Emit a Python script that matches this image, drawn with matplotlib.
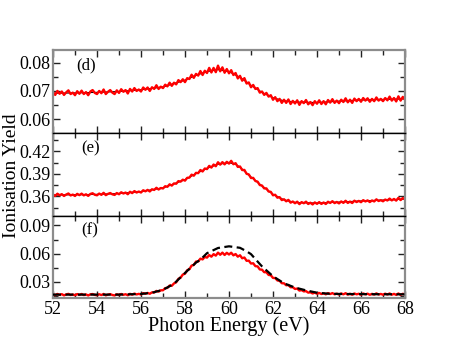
import numpy as np
import matplotlib
matplotlib.use("Agg")
import matplotlib.pyplot as plt
from matplotlib.ticker import MultipleLocator

plt.rcParams['font.family'] = ['Liberation Serif', 'DejaVu Serif']

# ---- data (photon energy grid starts at 52 eV, step 0.1 eV) ----
E0, dE = 52.0, 0.1

# panel (d), values x1e-4
d_raw = [695, 686, 700, 690, 698, 686, 695, 702, 689, 694,
         685, 699, 690, 701, 689, 696, 685, 698, 703, 693,
         689, 700, 692, 705, 689, 697, 703, 694, 689, 702,
         693, 706, 697, 703, 691, 707, 698, 710, 700, 705,
         698, 712, 704, 712, 700, 713, 707, 720, 707, 715,
         710, 722, 716, 729, 718, 729, 723, 738, 731, 741,
         731, 745, 742, 757, 746, 760, 754, 770, 756, 771,
         763, 781, 765, 781, 766, 789, 769, 783, 764, 777,
         762, 773, 756, 763, 744, 753, 736, 745, 726, 730,
         713, 721, 707, 710, 694, 698, 686, 693, 680, 685,
         669, 678, 664, 672, 658, 669, 658, 670, 654, 665,
         656, 667, 651, 664, 657, 668, 653, 661, 650, 664,
         655, 667, 654, 664, 653, 668, 659, 671, 658, 666,
         657, 669, 661, 674, 660, 669, 658, 673, 664, 672,
         662, 675, 666, 674, 662, 672, 664, 677, 666, 672,
         664, 675, 667, 680, 666, 675, 663, 681, 666, 679,
         669]
d_fit_E = [52, 53, 54, 55, 56, 57, 57.5, 58, 58.5, 59, 59.5, 60, 60.5, 61, 61.5,
           62, 62.5, 63, 64, 65, 66, 67, 68]
d_fit = [692, 693, 695, 698, 704, 714, 726, 738, 755, 768, 775, 768, 748, 720, 695,
         676, 665, 661, 659, 664, 668, 670, 672]

# panel (e), values x1e-4
e_raw = [3626, 3608, 3637, 3617, 3631, 3607, 3626, 3640, 3614, 3625,
         3607, 3635, 3618, 3638, 3615, 3629, 3608, 3634, 3643, 3623,
         3616, 3639, 3622, 3649, 3618, 3635, 3646, 3629, 3621, 3646,
         3630, 3656, 3640, 3652, 3630, 3663, 3645, 3672, 3653, 3666,
         3653, 3683, 3669, 3688, 3667, 3696, 3687, 3716, 3693, 3713,
         3707, 3737, 3729, 3762, 3745, 3774, 3770, 3805, 3798, 3824,
         3811, 3849, 3851, 3891, 3877, 3915, 3911, 3953, 3933, 3973,
         3965, 4008, 3985, 4026, 4003, 4056, 4024, 4058, 4028, 4062,
         4038, 4075, 4030, 4044, 3994, 4000, 3952, 3954, 3902, 3894,
         3846, 3848, 3806, 3798, 3752, 3746, 3708, 3708, 3666, 3662,
         3616, 3623, 3584, 3591, 3552, 3563, 3536, 3555, 3518, 3533,
         3510, 3531, 3498, 3525, 3510, 3531, 3500, 3517, 3494, 3521,
         3502, 3525, 3501, 3520, 3500, 3530, 3514, 3537, 3512, 3527,
         3508, 3534, 3515, 3543, 3514, 3532, 3513, 3544, 3526, 3541,
         3524, 3551, 3534, 3548, 3526, 3547, 3534, 3562, 3540, 3551,
         3536, 3559, 3547, 3572, 3548, 3567, 3545, 3582, 3552, 3579,
         3561]
e_fit_E = [52, 53, 54, 55, 56, 57, 57.5, 58, 58.5, 59, 59.5, 60, 60.3, 60.5, 61,
           61.5, 62, 62.5, 63, 64, 65, 66, 67, 68]
e_fit = [3620, 3623, 3628, 3640, 3665, 3715, 3768, 3825, 3905, 3975, 4030, 4050, 4030,
         3990, 3860, 3740, 3630, 3555, 3520, 3512, 3525, 3540, 3552, 3565]

# panel (f), values x1e-4
f_raw = [169, 159, 172, 162, 170, 157, 167, 173, 161, 166,
         158, 171, 162, 172, 160, 167, 156, 168, 171, 162,
         158, 169, 160, 172, 157, 165, 170, 161, 156, 169,
         160, 172, 163, 169, 158, 173, 164, 176, 167, 173,
         166, 181, 174, 183, 174, 189, 187, 204, 197, 211,
         211, 234, 236, 261, 259, 284, 296, 333, 345, 378,
         387, 424, 435, 473, 480, 516, 517, 547, 539, 565,
         558, 585, 568, 595, 579, 611, 588, 611, 586, 609,
         591, 610, 582, 596, 568, 583, 551, 559, 524, 526,
         495, 498, 467, 465, 432, 430, 403, 403, 374, 371,
         342, 341, 315, 312, 286, 285, 264, 267, 243, 244,
         225, 229, 208, 213, 199, 202, 186, 190, 177, 186,
         174, 183, 171, 179, 168, 181, 171, 181, 168, 175,
         166, 177, 168, 180, 165, 174, 164, 177, 168, 174,
         164, 177, 168, 175, 163, 173, 165, 178, 166, 172,
         164, 175, 166, 177, 164, 173, 162, 177, 162, 174,
         165]
f_model_E = [52, 55, 56, 56.5, 57, 57.5, 58, 58.5, 58.7, 59, 59.5, 60, 60.5, 60.8, 61,
             61.4, 61.5, 62, 62.5, 63, 63.5, 64, 64.5, 65, 66, 68]
f_model = [165, 165, 172, 185, 216, 280, 395, 505, 536, 605, 660, 678, 662, 625, 595,
           490, 465, 360, 285, 240, 210, 185, 175, 172, 170, 168]

panel_labels = ['(d)', '(e)', '(f)']
x_ticks = [52, 54, 56, 58, 60, 62, 64, 66, 68]

# ---- figure ----
fig = plt.figure(figsize=(4.58, 3.54), dpi=100)
L, W = 53 / 458, 352 / 458
tops = [50, 133, 216]
bots = [133, 216, 298]
axes = []
for t, b in zip(tops, bots):
    ax = fig.add_axes([L, 1 - b / 354, W, (b - t) / 354])
    axes.append(ax)

scale = 1e-4
raws = [d_raw, e_raw, f_raw]
ylims = [(0.0552, 0.0844), (0.334, 0.4446), (0.0129, 0.100)]
ymaj = [0.01, 0.03, 0.03]
ymin = [0.005, 0.015, 0.015]
label_pos = [(0.065, 0.82), (0.08, 0.81), (0.08, 0.83)]
gray = '#8c8c8c'

for i, ax in enumerate(axes):
    y = np.array(raws[i]) * scale
    x = E0 + dE * np.arange(len(y))
    if i == 0:
        ax.plot(d_fit_E, np.array(d_fit) * scale, color='black', lw=0.8, zorder=1)
    if i == 1:
        ax.plot(e_fit_E, np.array(e_fit) * scale, color='black', lw=0.8, zorder=1)
    ax.plot(x, y, color='#ff0000', lw=1.7, zorder=2)
    if i == 2:
        ax.plot(f_model_E, np.array(f_model) * scale, color='black', lw=1.6,
                ls=(0, (3.6, 2.0)), zorder=3)
    ax.set_xlim(52, 68)
    ax.set_ylim(*ylims[i])
    ax.xaxis.set_major_locator(MultipleLocator(2))
    ax.xaxis.set_minor_locator(MultipleLocator(1))
    ax.yaxis.set_major_locator(MultipleLocator(ymaj[i]))
    ax.yaxis.set_minor_locator(MultipleLocator(ymin[i]))
    ax.yaxis.set_major_formatter(matplotlib.ticker.FuncFormatter(
        lambda v, p: '{:.2f}'.format(v)))
    ax.tick_params(which='both', direction='in', top=True, right=True,
                   labelsize=13, width=1, color='#222222', pad=2)
    ax.tick_params(which='major', length=5)
    ax.tick_params(which='minor', length=3.5)
    for s in ['left', 'right']:
        ax.spines[s].set_color(gray)
        ax.spines[s].set_linewidth(1.6)
    ax.spines['top'].set_color(gray if i == 0 else 'black')
    ax.spines['top'].set_linewidth(1.6 if i == 0 else 1.0)
    ax.spines['bottom'].set_color(gray if i == 2 else 'black')
    ax.spines['bottom'].set_linewidth(1.6 if i == 2 else 1.0)
    if i < 2:
        ax.tick_params(labelbottom=False)
    else:
        ax.set_xticks(x_ticks)
        ax.set_xticklabels([str(t) for t in x_ticks])
    ax.text(label_pos[i][0], label_pos[i][1], panel_labels[i], transform=ax.transAxes,
            fontsize=12, ha='left', va='center')

fig.text(229 / 458, 1 - 326 / 354, 'Photon Energy (eV)', ha='center', va='center',
         fontsize=14.5)
fig.text(12 / 458, 1 - 176 / 354, 'Ionisation Yield', ha='center', va='center',
         rotation=90, fontsize=14)

fig.savefig('out.png', dpi=100)
